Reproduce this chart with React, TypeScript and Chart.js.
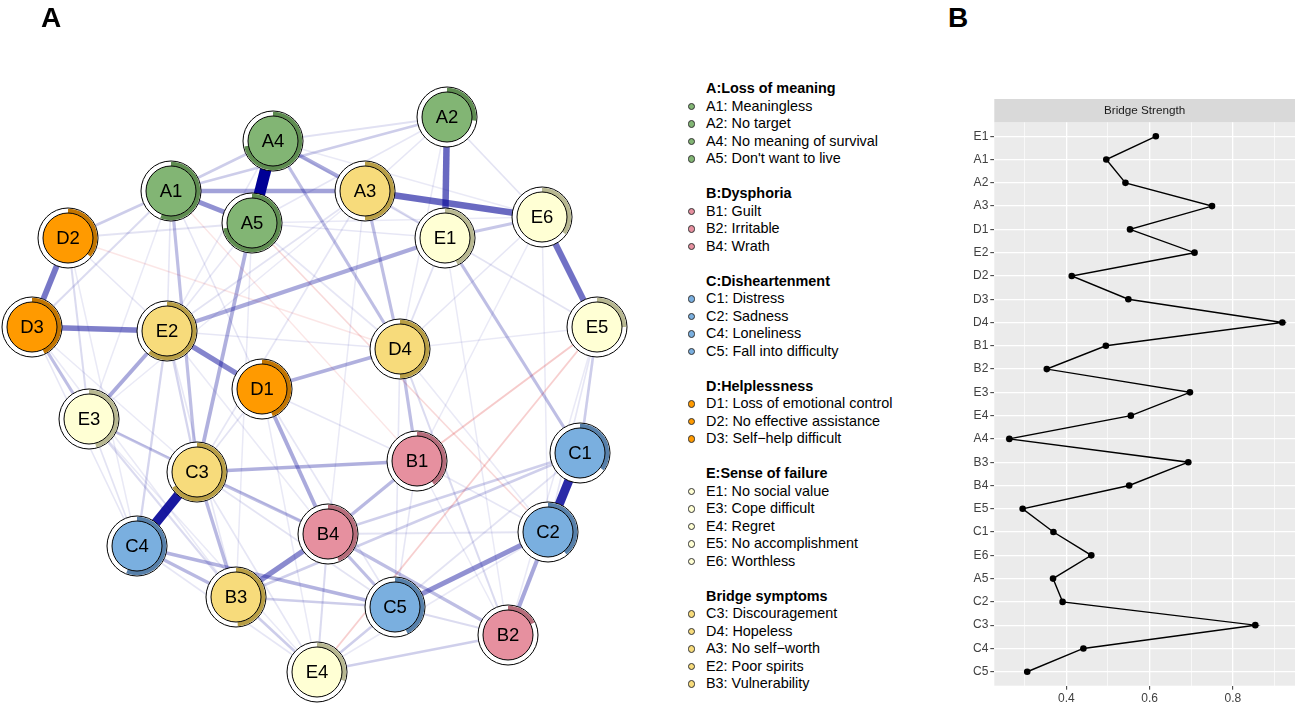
import React, { useEffect, useRef } from "react";
import { Chart, registerables } from "chart.js";
Chart.register(...registerables);

// ---------- Panel A: network data ----------
const nodeNames = ["A1","A2","A3","A4","A5","B1","B2","B3","B4","C1","C2","C3","C4","C5","D1","D2","D3","D4","E1","E2","E3","E4","E5","E6"];
// layout coordinates
const nodeX = [171,447,365,273,252,417,508,236,328,580,548,197,137,395,262,68,32,400,445,167,89,317,597,542];
const nodeY = [191,117,191,141,223,461,635,597,534,453,532,472,546,607,389,238,327,349,238,331,419,672,327,217];
const nodeGroup = ["A","A","Br","A","A","B","B","Br","B","C","C","Br","C","C","D","D","D","Br","E","Br","E","E","E","E"];
// predictability (pie ring)
const nodePie = [0.56,0.27,0.5,0.72,0.72,0.4,0.18,0.49,0.44,0.35,0.39,0.66,0.56,0.43,0.44,0.36,0.43,0.5,0.43,0.61,0.46,0.3,0.25,0.35];

const edgeFrom = [
  "A4","C3","C1","A2","A3","E6","D2","D3","E2","A1","B3","C5","A1","A4","C2","D1","E2","E2","D4","C3","A5","C4","C4","C3","A3","A4","A1","C3","B4","B4","B4","E1","D4","D3","E1","E3","E5","C1","C1","A1","A1","A1","E4","E4","E4","B3","E4","D4","D2","D3","A4","A3","E2","E2","E3","C5",
  "E3","A2","D2","E1","A5","A5","A4","A4","A3","A3","A3","A3","A1","A1","A1","A5","A5","D2","D2","D3","D3","D3","E2","E2","E2","E3","E3","C4","C3","C3","D1","D1","D1","D1","D4","D4","D4","E1","E1","E6","E6","E6","E5","E5","C1","B1","B1","B1","B4","E4","A2","A2","A2","A4","A5",
  "E5","E5","A5","A1","D2"
];
const edgeTo = [
  "A5","C4","C2","E1","E6","E5","D3","E2","D1","A5","B4","C2","A3","A3","B2","B4","E3","E1","D1","B1","C3","C5","B3","B3","D4","D4","C3","B4","C5","B2","B1","C1","B1","E3","E6","C3","C1","B4","B3","A2","D2","A4","B2","C5","B3","C5","B4","B2","E3","A1","A2","E1","C3","C4","B3","B2",
  "C4","E6","A5","D4","E1","D4","E1","E6","E2","E3","C3","B4","E2","E3","D1","E2","B3","E2","C4","C4","B3","C3","B3","B4","D4","E4","B4","E4","C5","E4","C3","C5","E4","B1","C5","C2","E5","E5","B2","D4","C2","B1","C2","B2","C5","C5","B2","C2","C2","C2","D4","A5","A3","E2","E6",
  "B1","E4","C2","B1","D4"
];
const edgeWeight = [
  0.95,0.78,0.72,0.5,0.5,0.47,0.45,0.42,0.4,0.36,0.38,0.36,0.3,0.27,0.28,0.27,0.27,0.27,0.25,0.25,0.25,0.24,0.22,0.22,0.2,0.2,0.2,0.2,0.2,0.2,0.22,0.2,0.2,0.2,0.17,0.17,0.15,0.14,0.14,0.15,0.15,0.15,0.14,0.14,0.15,0.15,0.1,0.1,0.1,0.1,0.08,0.1,0.12,0.12,0.1,0.1,
  0.07,0.07,0.07,0.08,0.06,0.06,0.05,0.05,0.07,0.05,0.06,0.05,0.06,0.05,0.06,0.06,0.05,0.06,0.05,0.06,0.05,0.05,0.06,0.05,0.06,0.05,0.05,0.06,0.07,0.06,0.07,0.06,0.05,0.06,0.06,0.05,0.05,0.07,0.05,0.06,0.05,0.05,0.06,0.05,0.07,0.06,0.05,0.06,0.07,0.05,0.05,0.06,0.06,0.05,0.05,
  -0.09,-0.08,-0.06,-0.03,-0.03
];

const groupFill: Record<string, string> = { A: "#82B574", B: "#E6909F", C: "#7AAFDF", D: "#FF9A00", E: "#FFFFD4", Br: "#F7DB7B" };
const groupRing: Record<string, string> = { A: "#5E8C50", B: "#B56C7A", C: "#5780AA", D: "#C27500", E: "#B8B891", Br: "#B89E45" };

// ---------- Legend ----------
const legendTitles = ["A:Loss of meaning", "B:Dysphoria", "C:Disheartenment", "D:Helplessness", "E:Sense of failure", "Bridge symptoms"];
const legendKeys = ["A", "B", "C", "D", "E", "Br"];
const legendItems = [
  ["A1: Meaningless", "A2: No target", "A4: No meaning of survival", "A5: Don't want to live"],
  ["B1: Guilt", "B2: Irritable", "B4: Wrath"],
  ["C1: Distress", "C2: Sadness", "C4: Loneliness", "C5: Fall into difficulty"],
  ["D1: Loss of emotional control", "D2: No effective assistance", "D3: Self\u2212help difficult"],
  ["E1: No social value", "E3: Cope difficult", "E4: Regret", "E5: No accomplishment", "E6: Worthless"],
  ["C3: Discouragement", "D4: Hopeless", "A3: No self\u2212worth", "E2: Poor spirits", "B3: Vulnerability"],
];

// ---------- Panel B: bridge strength ----------
const bridgeLabels = ["E1","A1","A2","A3","D1","E2","D2","D3","D4","B1","B2","E3","E4","A4","B3","B4","E5","C1","E6","A5","C2","C3","C4","C5"];
const bridgeValues = [0.615,0.496,0.542,0.75,0.553,0.708,0.413,0.549,0.919,0.495,0.353,0.697,0.555,0.263,0.693,0.551,0.295,0.369,0.46,0.368,0.391,0.854,0.441,0.306];
const bridgeMajor = [0.4, 0.6, 0.8];
const bridgeGrid = [0.3, 0.4, 0.5, 0.6, 0.7, 0.8, 0.9];

const FONT = '"Liberation Sans", Arial, Helvetica, sans-serif';

function edgeStyle(w: number) {
  const a = Math.abs(w);
  if (w >= 0) {
    const alpha = Math.min(1, 0.03 + 1.12 * a);
    return { color: `rgba(0,0,150,${alpha})`, width: 1 + 11 * a };
  }
  const alpha = Math.min(1, 0.05 + 2 * a);
  return { color: `rgba(215,30,30,${alpha})`, width: 1 + 11 * a };
}

const nodePlugin = {
  id: "nodeDraw",
  afterDatasetsDraw(chart: any) {
    const idx = chart.data.datasets.length - 1;
    const meta = chart.getDatasetMeta(idx);
    const ctx = chart.ctx as CanvasRenderingContext2D;
    ctx.save();
    meta.data.forEach((pt: any, i: number) => {
      const x = pt.x, y = pt.y;
      const g = nodeGroup[i];
      const R = 30, r = 25, ro = 29.3;
      ctx.beginPath();
      ctx.arc(x, y, R, 0, Math.PI * 2);
      ctx.fillStyle = "#ffffff";
      ctx.fill();
      ctx.lineWidth = 1;
      ctx.strokeStyle = "#000";
      ctx.stroke();
      const a0 = -Math.PI / 2;
      const a1 = a0 + Math.PI * 2 * nodePie[i];
      ctx.beginPath();
      ctx.arc(x, y, ro, a0, a1);
      ctx.arc(x, y, r, a1, a0, true);
      ctx.closePath();
      ctx.fillStyle = groupRing[g];
      ctx.fill();
      ctx.beginPath();
      ctx.arc(x, y, r, 0, Math.PI * 2);
      ctx.fillStyle = groupFill[g];
      ctx.fill();
      ctx.lineWidth = 1;
      ctx.strokeStyle = "#000";
      ctx.stroke();
      ctx.fillStyle = "#000";
      ctx.font = `18.5px ${FONT}`;
      ctx.textAlign = "center";
      ctx.textBaseline = "middle";
      ctx.fillText(nodeNames[i], x, y + 1);
    });
    ctx.restore();
  },
};

const panelPlugin = {
  id: "panelBg",
  beforeDraw(chart: any) {
    const { ctx, chartArea: a } = chart;
    const h = 23.3;
    ctx.save();
    ctx.fillStyle = "#EBEBEB";
    ctx.fillRect(a.left, a.top, a.right - a.left, a.bottom - a.top);
    ctx.fillStyle = "#D9D9D9";
    ctx.fillRect(a.left, a.top - h, a.right - a.left, h);
    ctx.fillStyle = "#1A1A1A";
    ctx.font = `11.7px ${FONT}`;
    ctx.textAlign = "center";
    ctx.textBaseline = "middle";
    ctx.fillText("Bridge Strength", (a.left + a.right) / 2, a.top - h / 2 + 0.5);
    ctx.restore();
  },
};

export default function App() {
  const netRef = useRef<HTMLCanvasElement>(null);
  const bRef = useRef<HTMLCanvasElement>(null);

  useEffect(() => {
    const idxOf = (n: string) => nodeNames.indexOf(n);
    const edgeSets: any[] = edgeFrom.map((f, k) => {
      const i = idxOf(f), j = idxOf(edgeTo[k]);
      const s = edgeStyle(edgeWeight[k]);
      return {
        data: [{ x: nodeX[i], y: nodeY[i] }, { x: nodeX[j], y: nodeY[j] }],
        showLine: true,
        borderColor: s.color,
        borderWidth: s.width,
        pointRadius: 0,
        pointHoverRadius: 0,
        order: -Math.abs(edgeWeight[k]),
      };
    });
    edgeSets.push({
      data: nodeNames.map((_, i) => ({ x: nodeX[i], y: nodeY[i] })),
      pointRadius: 0,
      pointHoverRadius: 0,
      showLine: false,
      order: -10,
    });
    const net = new Chart(netRef.current!, {
      type: "scatter",
      data: { datasets: edgeSets },
      options: {
        animation: false,
        responsive: false,
        events: [],
        layout: { padding: 0 },
        plugins: { legend: { display: false }, tooltip: { enabled: false } },
        scales: {
          x: { type: "linear", display: false, min: 0, max: 650 },
          y: { type: "linear", display: false, min: 0, max: 703, reverse: true },
        },
      },
      plugins: [nodePlugin],
    } as any);

    const isMajor = (v: number) => bridgeMajor.some((m) => Math.abs(m - v) < 1e-6);
    const bc = new Chart(bRef.current!, {
      type: "scatter",
      data: {
        datasets: [
          {
            data: bridgeValues.map((v, i) => ({ x: v, y: i })),
            showLine: true,
            borderColor: "#000",
            borderWidth: 1.4,
            pointRadius: 3.3,
            pointBackgroundColor: "#000",
            pointBorderColor: "#000",
            pointBorderWidth: 0,
          },
        ],
      },
      options: {
        animation: false,
        responsive: false,
        events: [],
        layout: { padding: { top: 32.3, left: 0, right: 0, bottom: 0 } },
        plugins: { legend: { display: false }, tooltip: { enabled: false } },
        scales: {
          x: {
            type: "linear",
            min: 0.2269,
            max: 0.9494,
            afterBuildTicks: (s: any) => { s.ticks = bridgeGrid.map((v) => ({ value: v })); },
            afterFit: (s: any) => { s.height = 17.3; },
            border: { display: false },
            grid: {
              color: "#ffffff",
              lineWidth: (c: any) => (isMajor(c.tick.value) ? 1.3 : 0.65),
              tickColor: (c: any) => (isMajor(c.tick.value) ? "#333333" : "rgba(0,0,0,0)"),
              tickWidth: 1,
              tickLength: 4,
            },
            ticks: {
              autoSkip: false,
              maxRotation: 0,
              padding: 1.5,
              color: "#404040",
              font: { size: 12, family: FONT },
              callback: (v: any) => (isMajor(Number(v)) ? Number(v).toFixed(1) : ""),
            },
          },
          y: {
            type: "linear",
            min: -0.6,
            max: bridgeLabels.length - 1 + 0.6,
            reverse: true,
            afterBuildTicks: (s: any) => { s.ticks = bridgeLabels.map((_, i) => ({ value: i })); },
            afterFit: (s: any) => { s.width = 44.3; },
            border: { display: false },
            grid: { color: "#ffffff", lineWidth: 1.3, tickColor: "#333333", tickWidth: 1, tickLength: 4 },
            ticks: {
              autoSkip: false,
              padding: 2,
              color: "#404040",
              font: { size: 12, family: FONT },
              callback: (v: any) => bridgeLabels[Number(v)] ?? "",
            },
          },
        },
      },
      plugins: [panelPlugin],
    } as any);

    return () => {
      net.destroy();
      bc.destroy();
    };
  }, []);

  const LH = 17.5;
  const firstY = 89;
  const rows: any[] = [];
  let line = 0;
  legendTitles.forEach((t, gi) => {
    rows.push({ text: t, bold: true, y: firstY + line * LH, key: null });
    line++;
    legendItems[gi].forEach((it) => {
      rows.push({ text: it, bold: false, y: firstY + line * LH, key: legendKeys[gi] });
      line++;
    });
    line++;
  });

  return (
    <div style={{ position: "fixed", left: 0, top: 0, width: 1299, height: 703, background: "#fff", overflow: "hidden", fontFamily: FONT }}>
      <canvas ref={netRef} width={650} height={703} style={{ position: "absolute", left: 0, top: 0, width: 650, height: 703 }} />
      <canvas ref={bRef} width={349} height={613} style={{ position: "absolute", left: 950, top: 90, width: 349, height: 613 }} />
      <div style={{ position: "absolute", left: 41, top: 4, fontSize: 28, lineHeight: "28px", fontWeight: "bold", color: "#000" }}>A</div>
      <div style={{ position: "absolute", left: 948, top: 4, fontSize: 28, lineHeight: "28px", fontWeight: "bold", color: "#000" }}>B</div>
      {rows.map((r, k) => (
        <div key={k} style={{ position: "absolute", left: 706, top: r.y - LH / 2, height: LH, lineHeight: `${LH}px`, fontSize: 14.4, fontWeight: r.bold ? "bold" : "normal", color: "#000", whiteSpace: "nowrap" }}>
          {r.key && (
            <span style={{ position: "absolute", left: -18, top: LH / 2 - 3.6, width: 5.2, height: 5.2, borderRadius: "50%", background: groupFill[r.key], border: "1px solid #333" }} />
          )}
          {r.text}
        </div>
      ))}
    </div>
  );
}
